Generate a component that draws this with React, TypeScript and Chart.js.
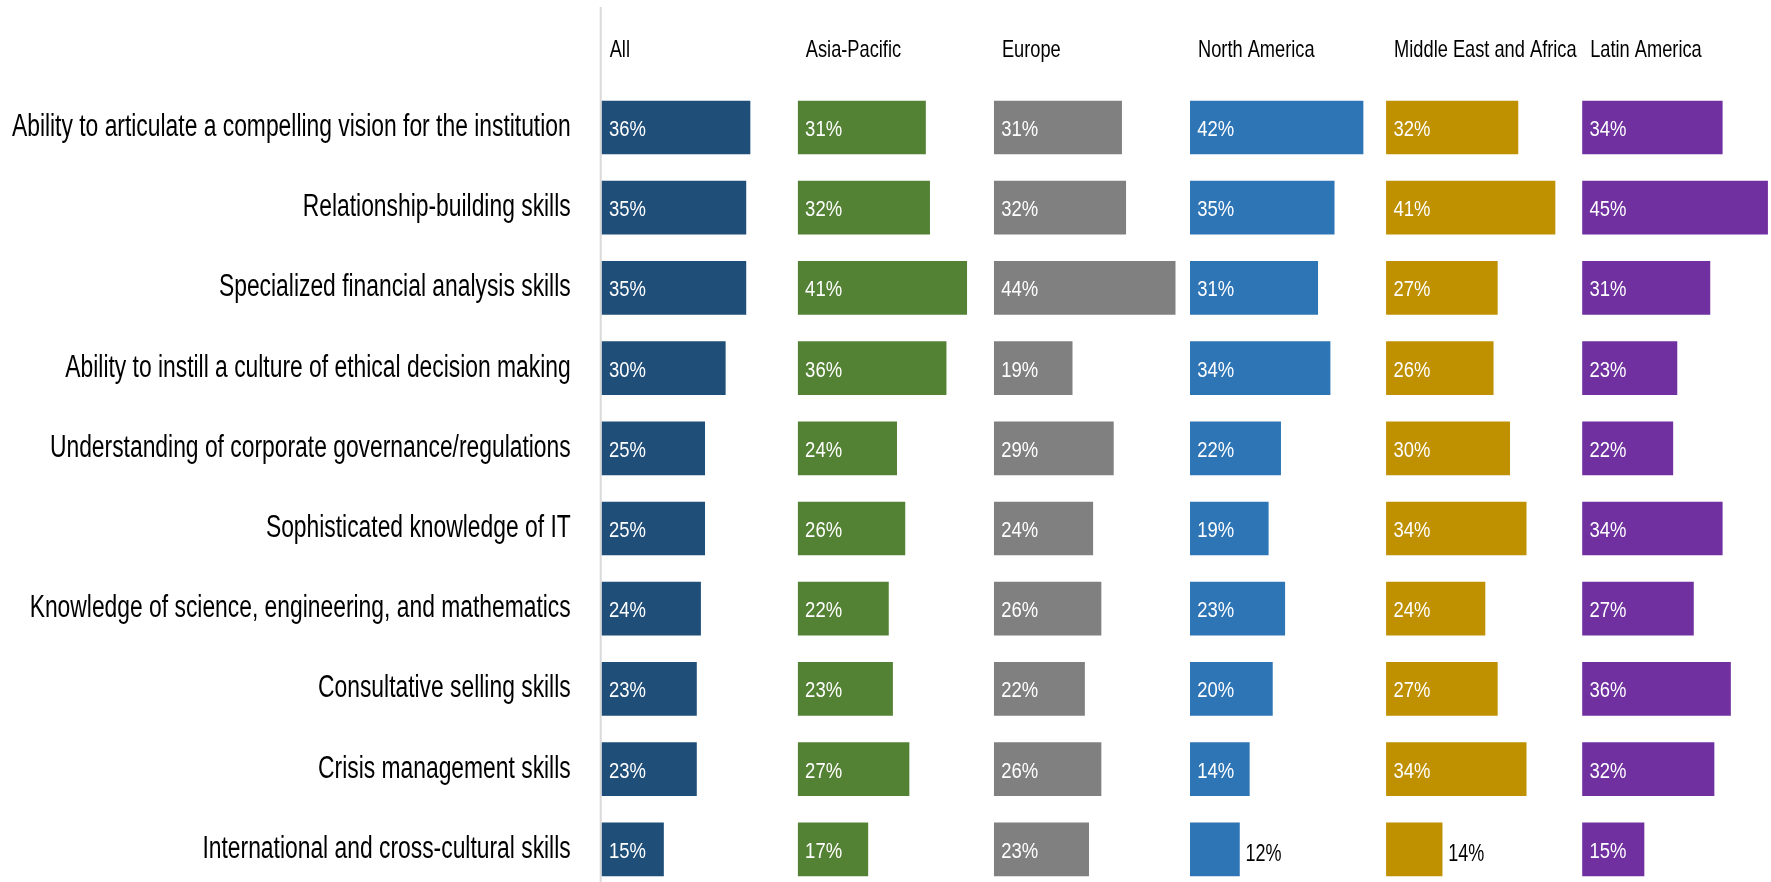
import React, { useEffect, useRef } from 'react';
import { Chart, registerables } from 'chart.js';

Chart.register(...registerables);

const skills = [
  'Ability to articulate a compelling vision for the institution',
  'Relationship-building skills',
  'Specialized financial analysis skills',
  'Ability to instill a culture of ethical decision making',
  'Understanding of corporate governance/regulations',
  'Sophisticated knowledge of IT',
  'Knowledge of science, engineering, and mathematics',
  'Consultative selling skills',
  'Crisis management skills',
  'International and cross-cultural skills',
];

const regions = ['All', 'Asia-Pacific', 'Europe', 'North America', 'Middle East and Africa', 'Latin America'];

const allValues = [36, 35, 35, 30, 25, 25, 24, 23, 23, 15];
const asiaPacificValues = [31, 32, 41, 36, 24, 26, 22, 23, 27, 17];
const europeValues = [31, 32, 44, 19, 29, 24, 26, 22, 26, 23];
const northAmericaValues = [42, 35, 31, 34, 22, 19, 23, 20, 14.4, 12];
const middleEastAfricaValues = [32, 41, 27, 26, 30, 34, 24, 27, 34, 13.6];
const latinAmericaValues = [34, 45, 31, 23, 22, 34, 27, 36, 32, 15];

const seriesList = [allValues, asiaPacificValues, europeValues, northAmericaValues, middleEastAfricaValues, latinAmericaValues];
const colors = ['#1f4e79', '#548235', '#808080', '#2e75b6', '#bf9000', '#7030a0'];

const PANEL_MAX = 47.6;
const INSIDE_MIN = 14;
const FONT = "'Liberation Sans', Arial, sans-serif";

const CANVAS_W = 1790;
const CANVAS_H = 900;

function drawCondensed(ctx: any, text: string, x: number, y: number, size: number, scaleX: number, align: string, color: string) {
  ctx.save();
  ctx.translate(x, y);
  ctx.scale(scaleX, 1);
  ctx.font = `${size}px ${FONT}`;
  ctx.textAlign = align;
  ctx.textBaseline = 'alphabetic';
  ctx.fillStyle = color;
  ctx.fillText(text, 0, 0);
  ctx.restore();
}

const axisLinePlugin = {
  id: 'axisLine',
  beforeDatasetsDraw(chart: any) {
    const ctx = chart.ctx;
    const x = chart.chartArea.left - 1;
    ctx.save();
    ctx.strokeStyle = '#d9d9d9';
    ctx.lineWidth = 2;
    ctx.beginPath();
    ctx.moveTo(x, 7);
    ctx.lineTo(x, chart.height);
    ctx.stroke();
    ctx.restore();
  },
};

const labelPlugin = {
  id: 'textLabels',
  afterDatasetsDraw(chart: any) {
    const ctx = chart.ctx;
    // category labels (y axis)
    const yScale = chart.scales.y;
    chart.data.labels.forEach((lab: string, j: number) => {
      const py = yScale.getPixelForValue(j);
      drawCondensed(ctx, lab, yScale.right - 31, py + 8.5, 31, 0.737, 'right', '#000000');
    });
    // value labels
    chart.data.datasets.forEach((ds: any, i: number) => {
      const meta = chart.getDatasetMeta(i);
      meta.data.forEach((el: any, j: number) => {
        const v = ds.data[j];
        const text = Math.round(v) + '%';
        const { x, y, base } = el.getProps(['x', 'y', 'base'], true);
        if (v >= INSIDE_MIN) {
          drawCondensed(ctx, text, base + 7.3, y + 8.5, 22, 0.84, 'left', '#ffffff');
        } else {
          drawCondensed(ctx, text, x + 6, y + 12, 24, 0.75, 'left', '#000000');
        }
      });
    });
    // region headers
    regions.forEach((r, i) => {
      const s = chart.scales['x' + i];
      drawCondensed(ctx, r, s.left + 8, 56.7, 24, 0.76, 'left', '#000000');
    });
  },
};

export default function App() {
  const canvasRef = useRef<HTMLCanvasElement | null>(null);

  useEffect(() => {
    if (!canvasRef.current) return;
    const xScales: any = {};
    regions.forEach((_, i) => {
      xScales['x' + i] = {
        type: 'linear',
        axis: 'x',
        position: 'top',
        stack: 'panels',
        stackWeight: 1,
        weight: regions.length - i,
        min: 0,
        max: PANEL_MAX,
        ticks: { display: false },
        grid: { display: false, drawTicks: false },
        border: { display: false },
        afterFit: (s: any) => {
          s.height = 87.4;
        },
      };
    });

    const chart = new Chart(canvasRef.current, {
      type: 'bar',
      data: {
        labels: skills,
        datasets: seriesList.map((vals, i) => ({
          label: regions[i],
          data: vals,
          xAxisID: 'x' + i,
          yAxisID: 'y',
          backgroundColor: colors[i],
          borderWidth: 0,
          grouped: false,
          barThickness: 53,
        })),
      },
      options: {
        indexAxis: 'y',
        responsive: false,
        animation: false,
        layout: { padding: { left: 0, top: 0, right: CANVAS_W - 1778.3, bottom: CANVAS_H - 889.4 } },
        plugins: {
          legend: { display: false },
          tooltip: { enabled: false },
        },
        scales: {
          ...xScales,
          y: {
            type: 'category',
            position: 'left',
            offset: true,
            grid: { display: false, drawTicks: false },
            border: { display: false },
            ticks: { display: false },
            afterFit: (s: any) => {
              s.width = 601.7;
            },
          },
        },
      },
      plugins: [axisLinePlugin, labelPlugin],
    } as any);

    return () => chart.destroy();
  }, []);

  return (
    <div
      style={{
        position: 'fixed',
        left: 0,
        top: 0,
        width: 1771,
        height: 882,
        overflow: 'hidden',
        background: '#ffffff',
      }}
    >
      <canvas ref={canvasRef} width={CANVAS_W} height={CANVAS_H} style={{ display: 'block' }} />
    </div>
  );
}
